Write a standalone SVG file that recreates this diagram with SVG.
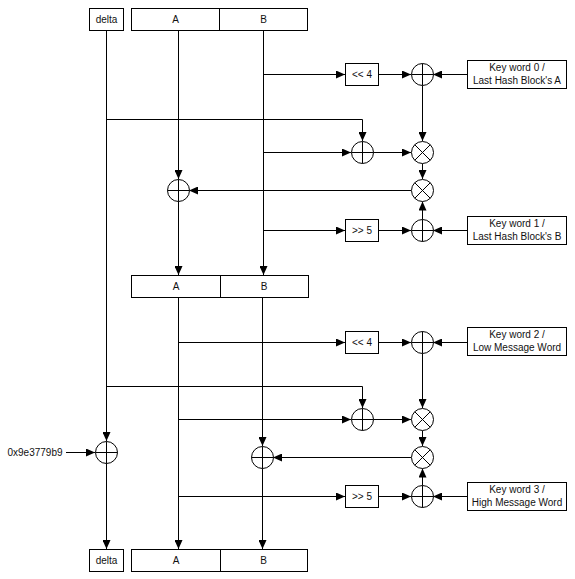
<svg xmlns="http://www.w3.org/2000/svg" width="575" height="579" viewBox="0 0 575 579">
<defs>
<marker id="ah" viewBox="0 0 9 8" refX="9" refY="4" markerWidth="9" markerHeight="8" markerUnits="userSpaceOnUse" orient="auto">
<path d="M0,0 L9,4 L0,8 z" fill="#000"/>
</marker>
<style>
.box{fill:#fff;stroke:#000;stroke-width:1}
.c{fill:#fff;stroke:#000;stroke-width:1}
.ln{fill:none;stroke:#000;stroke-width:1}
.ar{fill:none;stroke:#000;stroke-width:1;marker-end:url(#ah)}
text{font-family:"Liberation Sans",Arial,sans-serif;font-size:10px;fill:#111;text-anchor:middle}
</style>
</defs>
<rect width="575" height="579" fill="#fff"/>

<g id="connectors">
<!-- top section verticals -->
<path class="ar" d="M106.5,30 V441"/>
<path class="ar" d="M106.5,463 V549"/>
<path class="ar" d="M178.5,30 V179"/>
<path class="ar" d="M178.5,201 V275"/>
<path class="ar" d="M263.5,30 V275"/>
<!-- row 74 -->
<path class="ar" d="M263.5,74.5 H345"/>
<path class="ar" d="M378,74.5 H411"/>
<path class="ar" d="M467,74.5 H433"/>
<path class="ar" d="M422.5,85.5 V141"/>
<!-- delta row 119 -->
<path class="ar" d="M106.5,119.5 H362.5 V141"/>
<!-- row 152 -->
<path class="ar" d="M263.5,152.5 H351"/>
<path class="ar" d="M373,152.5 H411"/>
<path class="ar" d="M422.5,163.5 V179"/>
<!-- row 190 -->
<path class="ar" d="M411,190.5 H189"/>
<!-- row 230 -->
<path class="ar" d="M263.5,230.5 H345"/>
<path class="ar" d="M378,230.5 H411"/>
<path class="ar" d="M467,230.5 H433"/>
<path class="ar" d="M422.5,219.5 V201.5"/>
<!-- bottom section verticals -->
<path class="ar" d="M178.5,297 V549"/>
<path class="ar" d="M262.5,297 V446"/>
<path class="ar" d="M262.5,468 V549"/>
<!-- row 342 -->
<path class="ar" d="M178.5,342.5 H345"/>
<path class="ar" d="M378,342.5 H411"/>
<path class="ar" d="M467,342.5 H433"/>
<path class="ar" d="M422.5,353.5 V408"/>
<!-- delta row 386 -->
<path class="ar" d="M106.5,386.5 H362.5 V408"/>
<!-- row 419 -->
<path class="ar" d="M178.5,419.5 H351"/>
<path class="ar" d="M373,419.5 H411"/>
<path class="ar" d="M422.5,430.5 V446"/>
<!-- row 457 -->
<path class="ar" d="M411,457.5 H273"/>
<!-- row 496 -->
<path class="ar" d="M178.5,496.5 H345"/>
<path class="ar" d="M378,496.5 H411"/>
<path class="ar" d="M467,496.5 H433"/>
<path class="ar" d="M422.5,485.5 V468.5"/>
<!-- constant -->
<path class="ar" d="M66,452.5 H95"/>
</g>

<g id="delta-top"><rect class="box" x="89.5" y="8.5" width="34" height="22"/><text x="106.5" y="23">delta</text></g>
<g id="ab-top"><rect class="box" x="131.5" y="8.5" width="176" height="22"/><path class="ln" d="M219.5,8.5 V30.5"/><text x="175.5" y="23">A</text><text x="263.5" y="23">B</text></g>

<g id="shl4-1"><rect class="box" x="345.5" y="63.5" width="33" height="22"/><text x="362" y="78">&lt;&lt; 4</text></g>
<g id="xor-k0"><circle class="c" cx="422.5" cy="74.5" r="11"/><path class="ln" d="M411.5,74.5 H433.5 M422.5,63.5 V85.5"/></g>
<g id="key0"><rect class="box" x="467.5" y="60.5" width="99" height="28"/><text x="517" y="71">Key word 0 /</text><text x="517" y="84">Last Hash Block's A</text></g>

<g id="add-d1"><circle class="c" cx="362.5" cy="152.5" r="11"/><path class="ln" d="M351.5,152.5 H373.5 M362.5,141.5 V163.5"/></g>
<g id="mul-1"><circle class="c" cx="422.5" cy="152.5" r="11"/><path class="ln" d="M414.7,144.7 L430.3,160.3 M430.3,144.7 L414.7,160.3"/></g>
<g id="mul-2"><circle class="c" cx="422.5" cy="190.5" r="11"/><path class="ln" d="M414.7,182.7 L430.3,198.3 M430.3,182.7 L414.7,198.3"/></g>
<g id="add-a"><circle class="c" cx="178.5" cy="190.5" r="11"/><path class="ln" d="M167.5,190.5 H189.5 M178.5,179.5 V201.5"/></g>

<g id="shr5-1"><rect class="box" x="345.5" y="219.5" width="33" height="22"/><text x="362" y="234">&gt;&gt; 5</text></g>
<g id="xor-k1"><circle class="c" cx="422.5" cy="230.5" r="11"/><path class="ln" d="M411.5,230.5 H433.5 M422.5,219.5 V241.5"/></g>
<g id="key1"><rect class="box" x="467.5" y="216.5" width="99" height="28"/><text x="517" y="227">Key word 1 /</text><text x="517" y="240">Last Hash Block's B</text></g>

<g id="ab-mid"><rect class="box" x="131.5" y="275.5" width="177" height="22"/><path class="ln" d="M220.5,275.5 V297.5"/><text x="176" y="290">A</text><text x="264" y="290">B</text></g>

<g id="shl4-2"><rect class="box" x="345.5" y="331.5" width="33" height="22"/><text x="362" y="346">&lt;&lt; 4</text></g>
<g id="xor-k2"><circle class="c" cx="422.5" cy="342.5" r="11"/><path class="ln" d="M411.5,342.5 H433.5 M422.5,331.5 V353.5"/></g>
<g id="key2"><rect class="box" x="467.5" y="327.5" width="99" height="28"/><text x="517" y="338">Key word 2 /</text><text x="517" y="351">Low Message Word</text></g>

<g id="add-d2"><circle class="c" cx="362.5" cy="419.5" r="11"/><path class="ln" d="M351.5,419.5 H373.5 M362.5,408.5 V430.5"/></g>
<g id="mul-3"><circle class="c" cx="422.5" cy="419.5" r="11"/><path class="ln" d="M414.7,411.7 L430.3,427.3 M430.3,411.7 L414.7,427.3"/></g>
<g id="mul-4"><circle class="c" cx="422.5" cy="457.5" r="11"/><path class="ln" d="M414.7,449.7 L430.3,465.3 M430.3,449.7 L414.7,465.3"/></g>
<g id="add-b"><circle class="c" cx="262.5" cy="457.5" r="11"/><path class="ln" d="M251.5,457.5 H273.5 M262.5,446.5 V468.5"/></g>

<g id="shr5-2"><rect class="box" x="345.5" y="485.5" width="33" height="22"/><text x="362" y="500">&gt;&gt; 5</text></g>
<g id="xor-k3"><circle class="c" cx="422.5" cy="496.5" r="11"/><path class="ln" d="M411.5,496.5 H433.5 M422.5,485.5 V507.5"/></g>
<g id="key3"><rect class="box" x="467.5" y="482.5" width="99" height="28"/><text x="517" y="493">Key word 3 /</text><text x="517" y="506">High Message Word</text></g>

<g id="add-delta"><circle class="c" cx="106.5" cy="452.5" r="11"/><path class="ln" d="M95.5,452.5 H117.5 M106.5,441.5 V463.5"/></g>
<g id="const"><text x="35" y="456">0x9e3779b9</text></g>

<g id="delta-bot"><rect class="box" x="89.5" y="549.5" width="34" height="22"/><text x="106.5" y="564">delta</text></g>
<g id="ab-bot"><rect class="box" x="131.5" y="549.5" width="176" height="22"/><path class="ln" d="M220.5,549.5 V571.5"/><text x="176" y="564">A</text><text x="263.5" y="564">B</text></g>
</svg>
